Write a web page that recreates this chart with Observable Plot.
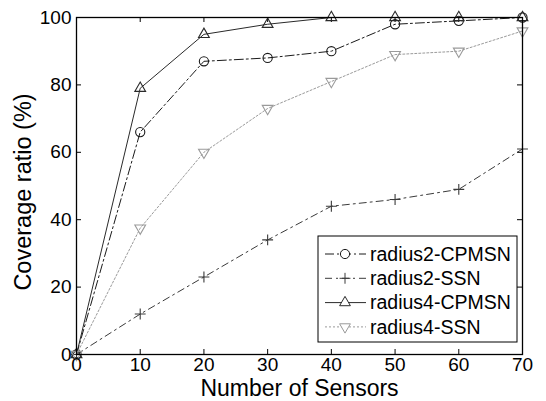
<!DOCTYPE html>
<html>
<head>
<meta charset="utf-8">
<script src="https://cdn.jsdelivr.net/npm/d3@7"></script>
<script src="https://cdn.jsdelivr.net/npm/@observablehq/plot@0.6"></script>
<style>
  html, body { margin: 0; padding: 0; background: white; }
</style>
</head>
<body>
<div id="chart"></div>
<script>
const sensors = [0, 10, 20, 30, 40, 50, 60, 70];
const radius2CPMSN = [0, 66, 87, 88, 90, 98, 99, 100];
const radius2SSN = [0, 12, 23, 34, 44, 46, 49, 61];
const radius4CPMSN = [0, 79, 95, 98, 100, 100, 100, 100];
const radius4SSN = [0, 37.5, 60, 73, 81, 89, 90, 96];
const seriesNames = ["radius2-CPMSN", "radius2-SSN", "radius4-CPMSN", "radius4-SSN"];
const xTicks = [0, 10, 20, 30, 40, 50, 60, 70];
const yTicks = [0, 20, 40, 60, 80, 100];
const xTitle = "Number of Sensors";
const yTitle = "Coverage ratio (%)";

const styles = [
  {stroke: "#1a1a1a", dash: "9,3,2,3", symbol: "circle", rotate: 0, r: 4.6},
  {stroke: "#3a3a3a", dash: "7,4,2,4", symbol: "plus", rotate: 0, r: 3.6},
  {stroke: "#2a2a2a", dash: null, symbol: "triangle", rotate: 0, r: 4.0},
  {stroke: "#9a9a9a", dash: "2,2", symbol: "triangle", rotate: 180, r: 4.0}
];
const values = [radius2CPMSN, radius2SSN, radius4CPMSN, radius4SSN];
const tables = values.map((vals, i) => sensors.map((x, j) => ({x, y: vals[j], series: seriesNames[i]})));

const W = 546, H = 401;
const mL = 76, mR = 24, mT = 17, mB = 47;
const fw = W - mL - mR, fh = H - mT - mB;
const tick = 5;
const FONT = "'Liberation Sans', Arial, Helvetica, sans-serif";

const dataMarks = [];
tables.forEach((t, i) => {
  const s = styles[i];
  dataMarks.push(Plot.line(t, {x: "x", y: "y", stroke: s.stroke, strokeWidth: 1, strokeDasharray: s.dash}));
  dataMarks.push(Plot.dot(t, {x: "x", y: "y", stroke: s.stroke, fill: "none", strokeWidth: 1.1, symbol: s.symbol, r: s.r, rotate: s.rotate}));
});

const svg = Plot.plot({
  width: W, height: H,
  marginLeft: mL, marginRight: mR, marginTop: mT, marginBottom: mB,
  x: {domain: [0, 70]},
  y: {domain: [0, 100]},
  style: {fontFamily: FONT, background: "white", color: "black"},
  marks: [
    Plot.tickX(xTicks, {x: d => d, insetTop: fh - tick, stroke: "black"}),
    Plot.tickX(xTicks, {x: d => d, insetBottom: fh - tick, stroke: "black"}),
    Plot.tickY(yTicks, {y: d => d, insetRight: fw - tick, stroke: "black"}),
    Plot.tickY(yTicks, {y: d => d, insetLeft: fw - tick, stroke: "black"}),
    ...dataMarks,
    Plot.frame({stroke: "black", strokeWidth: 1.3}),
    Plot.axisX({ticks: xTicks, tickSize: 0, tickPadding: 3, fontSize: 19, label: null}),
    Plot.axisY({ticks: yTicks, tickSize: 0, tickPadding: 5, fontSize: 19, label: null}),
    Plot.text([xTitle], {text: d => d, frameAnchor: "bottom", dy: 34, lineAnchor: "middle", textAnchor: "middle", fontSize: 23}),
    Plot.text([yTitle], {text: d => d, frameAnchor: "left", dx: -53, dy: 6, rotate: -90, lineAnchor: "middle", textAnchor: "middle", fontSize: 23.5})
  ]
});

// Legend (inside plot, lower right)
const lg = d3.select(svg).append("g")
  .attr("font-family", FONT)
  .attr("font-size", 19.5)
  .attr("text-anchor", "start");
const bx = 318, by = 236, bw = 199, bh = 106, rowH = 24.3, row0 = 254;
lg.append("rect").attr("x", bx).attr("y", by).attr("width", bw).attr("height", bh)
  .attr("fill", "white").attr("stroke", "black").attr("stroke-width", 1);
const symMap = {circle: d3.symbolCircle, plus: d3.symbolPlus, triangle: d3.symbolTriangle};
seriesNames.forEach((name, i) => {
  const s = styles[i];
  const cy = row0 + i * rowH;
  const ln = lg.append("line").attr("x1", bx + 7).attr("x2", bx + 48).attr("y1", cy).attr("y2", cy)
    .attr("stroke", s.stroke).attr("stroke-width", 1);
  if (s.dash) ln.attr("stroke-dasharray", s.dash);
  lg.append("path")
    .attr("d", d3.symbol(symMap[s.symbol], Math.PI * s.r * s.r)())
    .attr("transform", `translate(${bx + 27},${cy}) rotate(${s.rotate})`)
    .attr("fill", "white").attr("stroke", s.stroke);
  lg.append("text").attr("x", bx + 52).attr("y", cy).attr("dy", "0.35em").attr("fill", "black").text(name);
});

document.getElementById("chart").appendChild(svg);
</script>
</body>
</html>
